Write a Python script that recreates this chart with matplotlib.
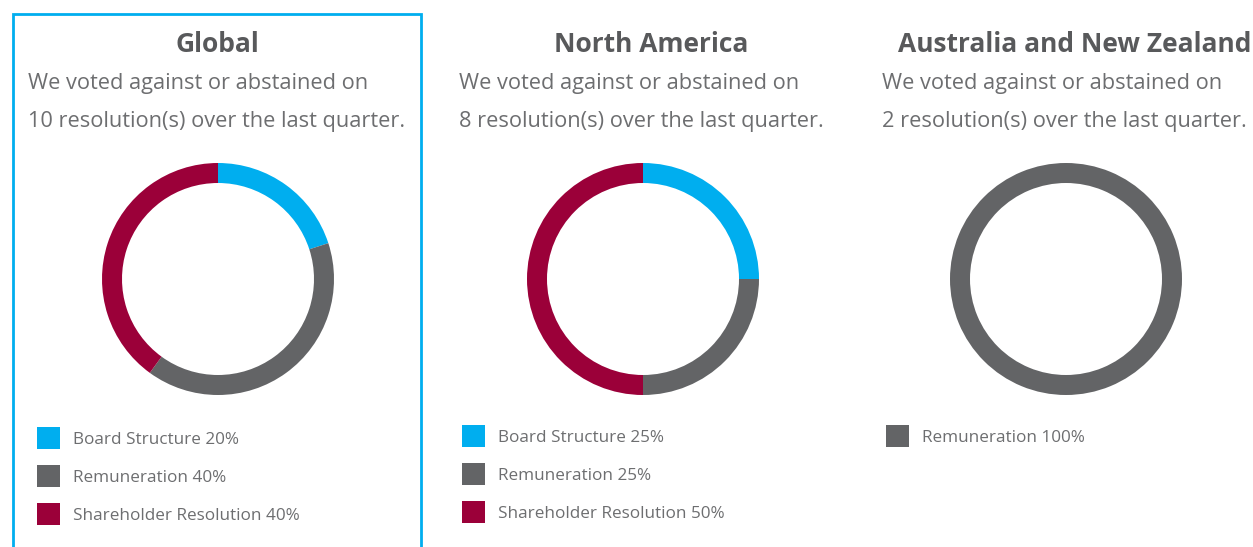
import matplotlib.pyplot as plt
from matplotlib.patches import Rectangle

# data
regions = ["Global", "North America", "Australia and New Zealand"]
counts = [10, 8, 2]
categories = [
    ["Board Structure", "Remuneration", "Shareholder Resolution"],
    ["Board Structure", "Remuneration", "Shareholder Resolution"],
    ["Remuneration"],
]
shares = [
    [20, 40, 40],
    [25, 25, 50],
    [100],
]
cat_colors = {
    "Board Structure": "#00aeef",
    "Remuneration": "#636466",
    "Shareholder Resolution": "#9b0039",
}

W, H = 1253, 547
fig = plt.figure(figsize=(W / 100, H / 100), dpi=100)
fig.patch.set_facecolor("white")

FONT = ["Open Sans", "DejaVu Sans"]
TXT = "#6d6e70"
TITLE = "#58595b"


def fx(x):
    return x / W


def fy(y):
    return 1 - y / H


# blue frame around the Global panel
fig.patches.append(Rectangle((fx(13), fy(560)), fx(421) - fx(13), fy(14) - fy(560),
                             transform=fig.transFigure, fill=False,
                             edgecolor="#00aeef", linewidth=2, clip_on=False))

# panel layout (pixel positions)
centers_x = [218, 643, 1066]
title_x = [217, 651, 1075]
text_x = [28, 459, 882]
legend_x = [37, 462, 886]
legend_y0 = [438, 436, 436]
R = 116
ring = 20

for i, region in enumerate(regions):
    fig.text(fx(title_x[i]), fy(45), region, ha="center", va="center",
             fontsize=19, fontweight="bold", color=TITLE, family=FONT)
    fig.text(fx(text_x[i]), fy(84), "We voted against or abstained on",
             ha="left", va="center", fontsize=15.7, color=TXT, family=FONT)
    fig.text(fx(text_x[i]), fy(122), f"{counts[i]} resolution(s) over the last quarter.",
             ha="left", va="center", fontsize=15.7, color=TXT, family=FONT)

    ax = fig.add_axes([fx(centers_x[i] - R), fy(279 + R), 2 * R / W, 2 * R / H])
    ax.pie(shares[i], colors=[cat_colors[c] for c in categories[i]],
           startangle=90, counterclock=False, radius=1,
           wedgeprops=dict(width=ring / R, linewidth=0))
    ax.set_xlim(-1, 1)
    ax.set_ylim(-1, 1)
    ax.set_aspect("equal")
    ax.axis("off")

    for j, (cat, val) in enumerate(zip(categories[i], shares[i])):
        yc = legend_y0[i] + 38 * j
        fig.patches.append(Rectangle((fx(legend_x[i]), fy(yc + 11)), 23 / W, 22 / H,
                                     transform=fig.transFigure,
                                     color=cat_colors[cat], linewidth=0))
        fig.text(fx(legend_x[i] + 36), fy(yc + 2), f"{cat} {val}%", ha="left", va="center",
                 fontsize=12.3, color=TXT, family=FONT)

fig.savefig("out.png", dpi=100)
